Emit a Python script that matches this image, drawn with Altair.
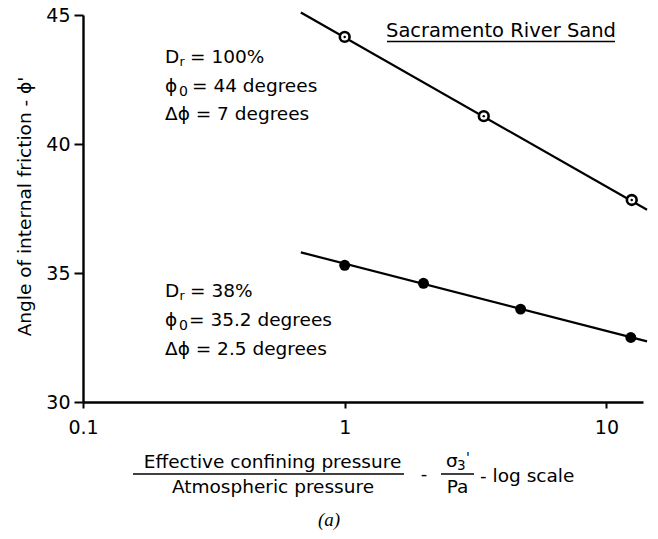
import altair as alt
import pandas as pd

# ---------------- data ----------------
dense_x = [1.0, 3.4, 12.5]            # Dr = 100 %
dense_y = [44.15, 41.08, 37.83]
loose_x = [1.0, 2.0, 4.7, 12.4]       # Dr = 38 %
loose_y = [35.3, 34.6, 33.6, 32.5]
dense_fit_x = [0.68, 14.3]
dense_fit_y = [45.1, 37.45]
loose_fit_x = [0.68, 14.3]
loose_fit_y = [35.8, 32.35]
x_ticks = [0.1, 1, 10]
y_ticks = [30, 35, 40, 45]

# ---------------- layout ----------------
L, T = 83, 15
W, H = 560, 387
FONT = "DejaVu Sans"
AF = 18.5  # annotation font size

pts = pd.DataFrame({
    "x": dense_x + loose_x,
    "y": dense_y + loose_y,
    "s": ["dense"] * len(dense_x) + ["loose"] * len(loose_x),
})
fits = pd.DataFrame({
    "x": dense_fit_x + loose_fit_x,
    "y": dense_fit_y + loose_fit_y,
    "s": ["dense"] * 2 + ["loose"] * 2,
})

xs = alt.Scale(type="log", domain=[0.1, 13.8], nice=False)
ys = alt.Scale(domain=[30, 45], nice=False, zero=False)

xaxis = alt.Axis(values=x_ticks, format="~g", title=None, grid=False,
                 tickSize=6, labelPadding=10, labelFlush=False, labelOverlap=False)
yaxis = alt.Axis(values=y_ticks, grid=False, tickSize=9, labelPadding=4,
                 title="Angle of internal friction - ϕ'", titleFont=FONT,
                 titleFontSize=18.5, titleFontWeight="normal", titleColor="black",
                 titleX=-53, titleY=191, titleBaseline="alphabetic")

X = alt.X("x:Q", scale=xs, axis=xaxis)
Y = alt.Y("y:Q", scale=ys, axis=yaxis)

lines = alt.Chart(fits).mark_line(color="black", strokeWidth=2.2, clip=False).encode(
    x=X, y=Y, detail="s:N")
rings = alt.Chart(pts).transform_filter(alt.datum.s == "dense").mark_point(
    shape="circle", filled=True, fill="white", stroke="black", strokeWidth=2.6,
    size=95, opacity=1).encode(x=X, y=Y)
dots = alt.Chart(pts).transform_filter(alt.datum.s == "dense").mark_circle(
    color="black", size=6, opacity=1).encode(x=X, y=Y)
solid = alt.Chart(pts).transform_filter(alt.datum.s == "loose").mark_circle(
    color="black", size=120, opacity=1).encode(x=X, y=Y)


def label(s, x, y, size=AF, align="left", font=FONT, style="normal"):
    return alt.Chart(pd.DataFrame({"t": [s]})).mark_text(
        align=align, baseline="alphabetic", font=font, fontSize=size,
        fontStyle=style, color="black").encode(
        x=alt.value(x - L), y=alt.value(y - T), text="t:N")


def hbar(x1, x2, y, w=1.6):
    return alt.Chart(pd.DataFrame({"k": [0]})).mark_rule(
        color="black", strokeWidth=w).encode(
        x=alt.value(x1 - L), x2=alt.value(x2 - L), y=alt.value(y - T))


texts = [
    # title
    label("Sacramento River Sand", 501, 37, size=19.5, align="center"),
    hbar(387, 615, 41.5),
    # upper block
    label("D", 165, 63), label("r", 179.5, 66, size=12.5), label("= 100%", 190, 63),
    label("ϕ", 165, 92), label("0", 179, 96, size=14), label("= 44 degrees", 192, 92),
    label("Δϕ = 7 degrees", 165, 120),
    # lower block
    label("D", 165, 297), label("r", 179.5, 300, size=12.5), label("= 38%", 190, 297),
    label("ϕ", 165, 326), label("0", 179, 330, size=14), label("= 35.2 degrees", 189, 326),
    label("Δϕ = 2.5 degrees", 165, 355),
    # x-axis title
    label("Effective confining pressure", 272.5, 468, size=18.5, align="center"),
    hbar(133, 404, 474),
    label("Atmospheric pressure", 273, 493, size=18.5, align="center"),
    label("-", 424, 480, size=18, align="center"),
    label("σ", 446, 467, size=18.5),
    label("3", 457, 470, size=13.5),
    label("'", 466, 462, size=14),
    hbar(441, 474, 474),
    label("Pa", 457.5, 493, size=18.5, align="center"),
    label("- log scale", 480, 482, size=18.5),
    # caption
    label("(a)", 329, 526, size=19, align="center", font="Liberation Serif", style="italic"),
]

chart = alt.layer(lines, rings, dots, solid, *texts).properties(
    width=W, height=H,
    autosize=alt.AutoSizeParams(type="none"),
    padding={"left": L, "top": T, "right": 658 - L - W, "bottom": 539 - T - H},
    background="white",
).configure_view(stroke=None).configure_axis(
    labelFont=FONT, labelFontSize=19, labelColor="black",
    domainColor="black", domainWidth=2.4, tickColor="black", tickWidth=2,
)

chart.save("out.html", embed_options={"renderer": "svg", "actions": False})
